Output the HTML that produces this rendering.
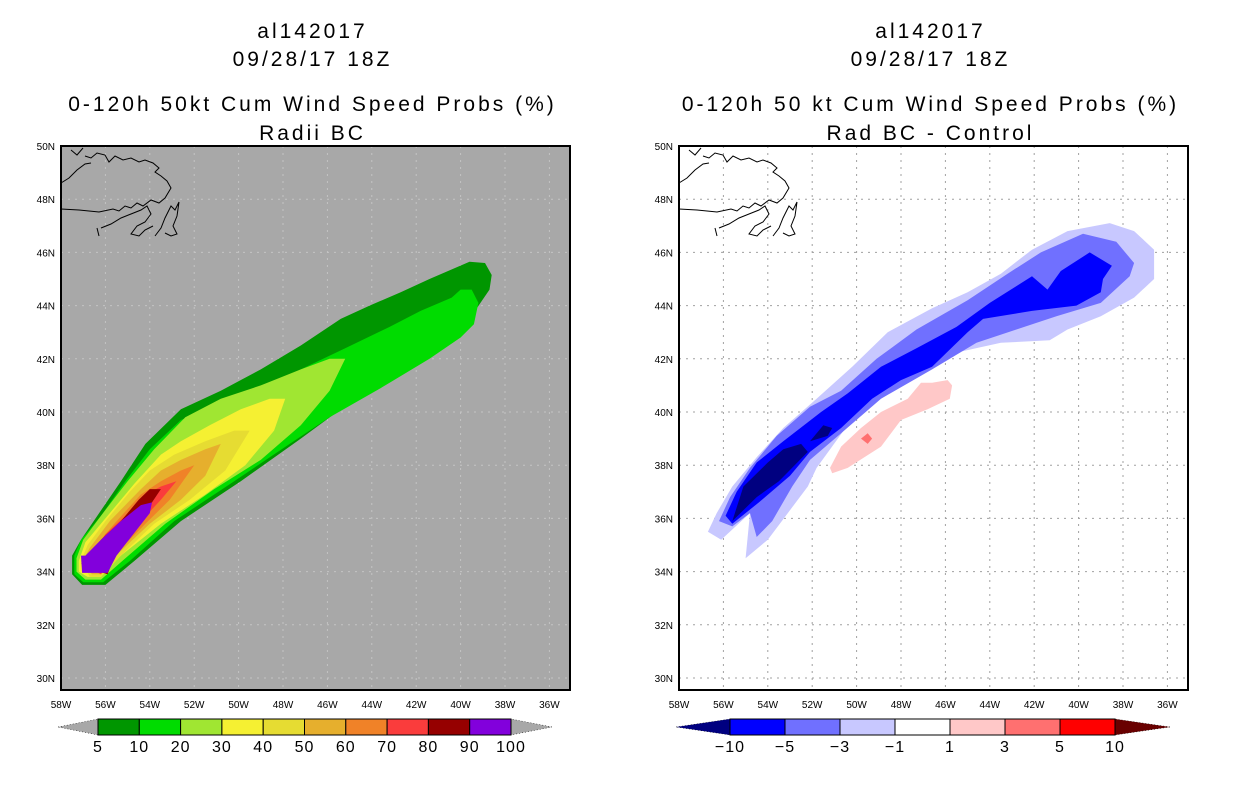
<!DOCTYPE html>
<html><head><meta charset="utf-8"><style>
html,body{margin:0;padding:0;background:#fff;}
svg{display:block;font-family:"Liberation Sans",sans-serif;}
</style></head><body>
<svg id="root" width="1236" height="800" viewBox="0 0 1236 800" xmlns="http://www.w3.org/2000/svg"></svg>
<script>
// ---- Data (lon negative = West, lat North) ----
const lonTicks = [-58,-56,-54,-52,-50,-48,-46,-44,-42,-40,-38,-36];
const latTicks = [50,48,46,44,42,40,38,36,34,32,30];
const probLevels = [5,10,20,30,40,50,60,70,80,90,100];
const probColors = ["#009600","#00dc00","#a0e632","#f5f032","#e6dc32","#e6af2d","#f08228","#fa3c3c","#960000","#8200dc"];
const diffLevels = [-10,-5,-3,-1,1,3,5,10];
const diffColors = ["#000080","#0000ff","#7070ff","#c8c8ff","#ffffff","#ffc8c8","#ff7070","#ff0000","#690000"];

const prob5 = [[-57.5,34.6],[-57.5,33.9],[-57.05,33.5],[-56.0,33.5],[-54.7,34.4],[-52.6,35.9],[-49.9,37.4],[-47.2,39.0],[-45.4,40.1],[-43.2,41.2],[-40.5,42.9],[-39.35,43.8],[-38.7,44.6],[-38.6,45.15],[-38.9,45.6],[-39.6,45.65],[-41.4,45.0],[-42.7,44.5],[-44.1,44.0],[-45.4,43.5],[-47.2,42.5],[-49.0,41.6],[-50.8,40.8],[-52.6,40.1],[-54.2,38.8],[-55.3,37.4],[-56.2,36.3],[-57.1,35.2]];
const prob10 = [[-57.4,34.6],[-57.4,33.9],[-57.0,33.6],[-56.1,33.6],[-54.9,34.4],[-52.9,35.9],[-50.2,37.4],[-47.7,38.8],[-45.9,39.8],[-43.6,40.9],[-41.4,42.0],[-40.0,42.8],[-39.4,43.3],[-39.2,44.1],[-39.5,44.6],[-40.0,44.6],[-40.4,44.3],[-41.8,43.8],[-43.2,43.2],[-45.2,42.4],[-47.2,41.6],[-49.0,40.8],[-50.8,40.3],[-52.6,39.7],[-54.0,38.6],[-55.1,37.4],[-56.2,36.1],[-57.1,35.2]];
const prob20 = [[-57.3,34.5],[-57.3,34.0],[-56.9,33.7],[-56.2,33.7],[-55.1,34.5],[-53.3,35.8],[-51.1,37.1],[-49.0,38.2],[-47.2,39.5],[-45.9,40.8],[-45.2,42.0],[-45.9,42.0],[-47.2,41.6],[-49.0,41.0],[-50.8,40.5],[-52.4,39.8],[-53.8,38.6],[-55.0,37.4],[-56.2,36.1],[-57.0,35.2]];
const prob30 = [[-57.2,34.4],[-57.2,34.0],[-56.8,33.8],[-56.2,33.8],[-55.3,34.6],[-53.5,35.8],[-51.5,36.9],[-49.7,38.0],[-48.4,39.3],[-47.9,40.5],[-48.6,40.5],[-49.9,40.1],[-51.3,39.5],[-52.6,38.9],[-53.5,38.4],[-54.7,37.3],[-56.0,36.0],[-56.9,35.1]];
const prob40 = [[-57.1,34.4],[-56.7,33.8],[-56.2,33.8],[-55.3,34.6],[-53.8,35.8],[-52.2,36.7],[-50.6,37.8],[-49.5,39.3],[-50.2,39.3],[-51.5,38.9],[-52.9,38.4],[-54.0,37.8],[-54.9,37.0],[-56.0,35.9],[-56.8,35.0]];
const prob50 = [[-57.1,34.3],[-56.6,33.9],[-56.2,33.9],[-55.4,34.7],[-54.0,35.8],[-52.6,36.7],[-51.5,37.6],[-50.8,38.8],[-51.5,38.6],[-52.6,38.2],[-53.5,37.8],[-54.4,37.1],[-55.8,35.9],[-56.7,34.9]];
const prob60 = [[-57.0,34.3],[-56.2,33.9],[-55.5,34.7],[-54.2,35.8],[-53.1,36.7],[-52.0,38.0],[-52.6,37.8],[-53.5,37.4],[-54.4,36.9],[-55.6,35.8],[-56.6,34.8]];
const prob70 = [[-56.9,34.2],[-56.2,33.9],[-55.6,34.8],[-54.4,35.9],[-53.5,36.7],[-52.8,37.4],[-53.5,37.2],[-54.2,36.9],[-55.1,36.1],[-56.0,35.4],[-56.6,34.7]];
const prob80 = [[-57.0,34.2],[-55.9,33.9],[-55.5,34.8],[-54.5,35.9],[-53.9,36.6],[-53.5,37.1],[-54.0,37.1],[-54.5,36.7],[-55.3,35.9],[-56.2,35.2],[-56.8,34.6]];
const prob90 = [[-57.1,34.6],[-57.05,33.95],[-55.9,33.95],[-55.5,34.6],[-54.0,36.2],[-53.9,36.6],[-54.4,36.5],[-55.3,35.9],[-56.2,35.2],[-56.9,34.6]];

const diffLight = [[-56.7,35.5],[-56.1,35.2],[-54.8,36.2],[-55.0,34.5],[-54.0,35.2],[-53.1,36.2],[-52.2,37.2],[-51.8,37.9],[-49.8,40.2],[-48.0,41.3],[-45.7,42.2],[-43.5,42.6],[-41.3,42.7],[-40.5,43.1],[-39.0,43.6],[-37.5,44.3],[-36.6,45.0],[-36.6,46.1],[-37.5,46.8],[-38.6,47.1],[-40.5,46.8],[-42.1,46.1],[-43.5,45.2],[-45.0,44.5],[-46.6,43.9],[-48.6,43.0],[-50.2,41.7],[-51.8,40.5],[-53.3,39.4],[-54.5,38.3],[-55.6,37.2],[-56.3,36.2]];
const diffMed = [[-56.2,35.9],[-55.6,35.7],[-54.8,36.2],[-54.5,35.3],[-53.8,35.9],[-52.9,37.2],[-52.1,38.2],[-50.7,39.2],[-48.9,40.5],[-46.6,41.6],[-44.6,42.6],[-42.8,43.1],[-41.0,43.6],[-39.0,44.1],[-37.7,45.1],[-37.5,45.6],[-38.3,46.4],[-39.8,46.7],[-41.7,46.0],[-43.2,45.2],[-45.0,44.2],[-47.3,43.1],[-49.1,42.0],[-50.7,40.8],[-52.1,40.2],[-53.6,39.1],[-54.8,37.9],[-55.7,36.8]];
const diffBlue = [[-55.9,36.1],[-55.6,35.8],[-54.4,36.6],[-53.0,37.6],[-52.1,38.5],[-50.7,39.4],[-49.3,40.5],[-48.0,41.2],[-46.6,41.7],[-45.0,43.0],[-44.3,43.5],[-42.1,43.8],[-40.1,44.0],[-39.0,44.5],[-38.9,45.0],[-38.5,45.5],[-39.5,46.0],[-40.8,45.3],[-41.4,44.6],[-42.1,45.1],[-44.0,44.1],[-45.5,43.2],[-47.3,42.4],[-48.9,41.7],[-50.4,40.7],[-51.6,40.0],[-53.3,38.9],[-54.5,38.1],[-55.4,37.0]];
const diffNavyA = [[-55.6,35.9],[-54.5,36.8],[-53.5,37.4],[-52.2,38.5],[-52.5,38.8],[-53.3,38.6],[-54.0,38.1],[-55.1,37.2]];
const diffNavyB = [[-52.1,38.9],[-51.3,39.1],[-51.1,39.4],[-51.5,39.5]];
const diffPink = [[-51.2,37.9],[-51.1,37.7],[-50.4,37.9],[-48.9,38.7],[-48.0,39.7],[-46.8,40.1],[-45.8,40.5],[-45.7,41.0],[-45.9,41.2],[-46.6,41.1],[-47.1,41.1],[-47.7,40.5],[-48.9,40.0],[-49.8,39.4],[-50.7,38.7]];
const diffSalmon = [[-49.8,39.0],[-49.5,39.2],[-49.3,39.0],[-49.5,38.8]];

const NS = "http://www.w3.org/2000/svg";
const root = document.getElementById('root');
function mk(tag, attrs, parent){const e=document.createElementNS(NS,tag);for(const k in attrs)e.setAttribute(k,attrs[k]);(parent||root).appendChild(e);return e;}

const PW=509, PH=544, TOP=146;
function makeAxes(x0){
  return {
    x: lon => x0 + (lon + 58) * 22.2,
    y: lat => TOP + (50 - lat) * 26.6
  };
}

function drawPanel(x0, bg, gridColor, polys, titleLines, prefix){
  const ax = makeAxes(x0);
  const g = mk('g',{});
  
  
  const bgr = mk('rect',{x:x0,y:TOP,width:PW,height:PH,fill:bg},g);
  
  
  lonTicks.forEach(l=>{ if(l===-58) return;
    const ln=mk('line',{x1:ax.x(l),x2:ax.x(l),y1:TOP,y2:TOP+PH,stroke:gridColor,'stroke-width':1,'stroke-dasharray':'2,5'},g);
    
    
  });
  latTicks.forEach(l=>{ if(l===50) return;
    const ln=mk('line',{x1:x0,x2:x0+PW,y1:ax.y(l),y2:ax.y(l),stroke:gridColor,'stroke-width':1,'stroke-dasharray':'2,5'},g);
    
    
  });
  polys.forEach(p=>{
    const pts = p.data.map(d=>ax.x(d[0]).toFixed(1)+','+ax.y(d[1]).toFixed(1)).join(' ');
    const el = mk('polygon',{points:pts,fill:p.color,stroke:'none'},g);
    
    
  });
  const c = mk('path',{fill:'none',stroke:'#000','stroke-width':1,
    d:`M${x0},${209} L${x0+18},210 L${x0+38},212 L${x0+52},209 L${x0+58},211 L${x0+64},206 L${x0+70},208 L${x0+76},203 L${x0+82},206 L${x0+90},200 L${x0+98},203 L${x0+104},198 L${x0+110},188 L${x0+106},181 L${x0+100},176 L${x0+94},172 L${x0+98},168 L${x0+92},163 L${x0+84},160 L${x0+78},162 L${x0+70},158 L${x0+62},160 L${x0+54},156 L${x0+48},162 L${x0+44},155 L${x0+36},153 L${x0+30},158 L${x0+24},156
     M${x0},${183} L${x0+8},178 L${x0+16},170 L${x0+24},164 L${x0+30},163
     M${x0+10},150 L${x0+16},155 L${x0+22},148
     M${x0+40},228 L${x0+50},224 L${x0+60},218 L${x0+70},214 L${x0+80},210 L${x0+86},206 L${x0+90},214 L${x0+84},222 L${x0+76},226 L${x0+70},234 L${x0+78},236 L${x0+84},230 L${x0+92},226
     M${x0+94},236 L${x0+100},228 L${x0+104},218 L${x0+110},206 L${x0+114},210 L${x0+118},202 L${x0+116},216 L${x0+112},226 L${x0+116},234 L${x0+110},236 L${x0+104},233
     M${x0+36},228 L${x0+38},236`},g);
  
  
  const fr = mk('rect',{x:x0,y:TOP,width:PW,height:PH,fill:'none',stroke:'#000','stroke-width':2},g);
  
  
  lonTicks.forEach(l=>{
    const t=mk('text',{x:ax.x(l),y:708,'font-size':10,'text-anchor':'middle',fill:'#000'},g);
    t.textContent = Math.abs(l)+'W';
    
    
  });
  latTicks.forEach(l=>{
    const t=mk('text',{x:x0-6,y:ax.y(l)+4,'font-size':10,'text-anchor':'end',fill:'#000'},g);
    t.textContent = l+'N';
    
    
  });
  const ty=[38,66,111,140];
  titleLines.forEach((s,i)=>{
    const t=mk('text',{x:x0+PW/2-3,y:ty[i],'font-size':21,'text-anchor':'middle',fill:'#000','letter-spacing':'3'},g);
    t.textContent=s;
    
    
  });
}

drawPanel(61,'#a8a8a8','#c4c4c4',[
  {data:prob5,color:probColors[0],name:'contour-5pct'},
  {data:prob10,color:probColors[1],name:'contour-10pct'},
  {data:prob20,color:probColors[2],name:'contour-20pct'},
  {data:prob30,color:probColors[3],name:'contour-30pct'},
  {data:prob40,color:probColors[4],name:'contour-40pct'},
  {data:prob50,color:probColors[5],name:'contour-50pct'},
  {data:prob60,color:probColors[6],name:'contour-60pct'},
  {data:prob70,color:probColors[7],name:'contour-70pct'},
  {data:prob80,color:probColors[8],name:'contour-80pct'},
  {data:prob90,color:probColors[9],name:'contour-90pct'}
],['al142017','09/28/17 18Z','0-120h 50kt Cum Wind Speed Probs (%)','Radii BC'],'left');

drawPanel(679,'#ffffff','#a0a0a0',[
  {data:diffLight,color:diffColors[3],name:'contour-minus1'},
  {data:diffMed,color:diffColors[2],name:'contour-minus3'},
  {data:diffBlue,color:diffColors[1],name:'contour-minus5'},
  {data:diffNavyA,color:diffColors[0],name:'contour-minus10-a'},
  {data:diffNavyB,color:diffColors[0],name:'contour-minus10-b'},
  {data:diffPink,color:diffColors[5],name:'contour-plus1'},
  {data:diffSalmon,color:diffColors[6],name:'contour-plus3'}
],['al142017','09/28/17 18Z','0-120h 50 kt Cum Wind Speed Probs (%)','Rad BC - Control'],'right');

function colorbar(x0, x1, triL, triR, colors, triLc, triRc, labels, prefix){
  const n = colors.length, w=(x1-x0)/n, y0=719, y1=735, ym=727;
  const g = mk('g',{});
  
  
  const tl=mk('polygon',{points:`${triL},${ym} ${x0},${y0} ${x0},${y1}`,fill:triLc,stroke:'#000','stroke-width':0.5,'stroke-dasharray':'1,2'},g);
  
  
  const tr=mk('polygon',{points:`${triR},${ym} ${x1},${y0} ${x1},${y1}`,fill:triRc,stroke:'#000','stroke-width':0.5,'stroke-dasharray':'1,2'},g);
  
  
  colors.forEach((c,i)=>{
    const r=mk('rect',{x:x0+i*w,y:y0,width:w,height:y1-y0,fill:c,stroke:'#000','stroke-width':1},g);
    
    
  });
  labels.forEach((l,i)=>{
    const t=mk('text',{x:x0+i*w,y:752,'font-size':16,'text-anchor':'middle',fill:'#000','letter-spacing':'1'},g);
    t.textContent = l<0 ? '\u2212'+Math.abs(l) : String(l);
    
    
  });
}
colorbar(98,511,58,552,probColors,'#a8a8a8','#a8a8a8',probLevels,'left');
colorbar(730,1115,676,1170,diffColors.slice(1,8),diffColors[0],diffColors[8],diffLevels,'right');
</script>
</body></html>
